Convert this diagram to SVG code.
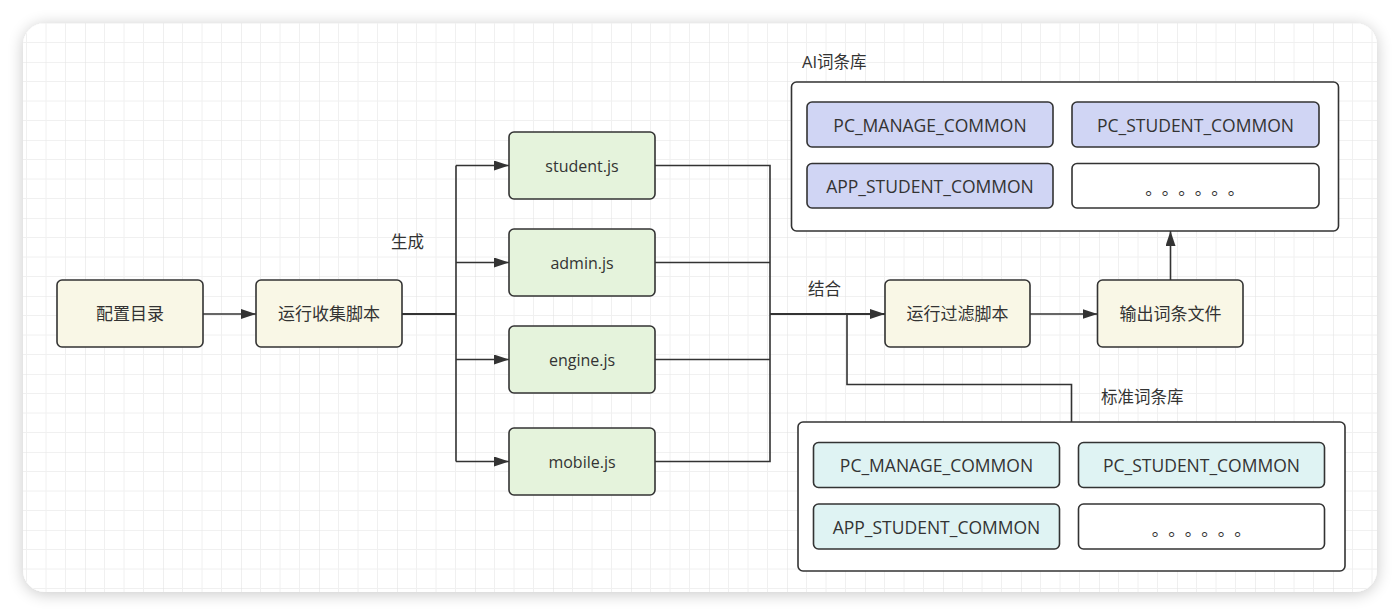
<svg xmlns="http://www.w3.org/2000/svg" width="1400" height="616" viewBox="0 0 1400 616">
  <defs>
    <filter id="shadow" x="-5%" y="-10%" width="110%" height="120%">
      <feGaussianBlur in="SourceAlpha" stdDeviation="8"/>
      <feOffset dx="0" dy="2" result="b"/>
      <feComponentTransfer><feFuncA type="linear" slope="0.22"/></feComponentTransfer>
      <feMerge><feMergeNode/><feMergeNode in="SourceGraphic"/></feMerge>
    </filter>
    <pattern id="grid" patternUnits="userSpaceOnUse" x="7" y="-16" width="78" height="78">
      <path d="M19.5 0V78M39 0V78M58.5 0V78M0 19.5H78M0 39H78M0 58.5H78" stroke="#f0f0f0" stroke-width="1" fill="none"/>
      <path d="M0 0V78M0 0H78" stroke="#e4e4e4" stroke-width="1.2" fill="none"/>
    </pattern>
    <clipPath id="cardclip"><rect x="23" y="23" width="1354" height="569" rx="22"/></clipPath>
    <marker id="arrow" viewBox="0 0 15 10" refX="15" refY="5" markerWidth="15" markerHeight="10" markerUnits="userSpaceOnUse" orient="auto">
      <path d="M0 0L15 5L0 10Z" fill="#333333"/>
    </marker>
    <style>
      .node { stroke: #333333; stroke-width: 1.6; }
      .cream { fill: #f9f7e6; }
      .green { fill: #e5f3dc; }
      .purple { fill: #d0d5f4; }
      .cyan { fill: #dff3f3; }
      .white { fill: #ffffff; }
      .txt { font-family: "Open Sans", "Noto Sans CJK SC", sans-serif; font-size: 16px; fill: #333333; text-anchor: middle; dominant-baseline: central; }
      .zh { font-size: 17px; }
      .big { font-size: 17.5px; }
      .lbl { font-family: "Open Sans", "Noto Sans CJK SC", sans-serif; font-size: 16.5px; fill: #333333; dominant-baseline: central; }
      .dots { font-family: "Noto Sans CJK SC", sans-serif; font-size: 17px; letter-spacing: 8px; fill: #333333; text-anchor: middle; }
      .edge { fill: none; stroke: #333333; stroke-width: 1.6; }
      .thick { stroke-width: 2; }
    </style>
  </defs>

  <rect x="0" y="0" width="1400" height="616" fill="#ffffff"/>
  <rect x="23" y="23" width="1354" height="569" rx="22" fill="#ffffff" filter="url(#shadow)"/>
  <rect x="23" y="23" width="1354" height="569" fill="url(#grid)" clip-path="url(#cardclip)"/>

  <g id="connectors">
    <line class="edge" x1="203" y1="314" x2="256" y2="314" marker-end="url(#arrow)"/>
    <line class="edge thick" x1="402" y1="314" x2="456" y2="314"/>
    <line class="edge" x1="456" y1="165.5" x2="456" y2="461.5"/>
    <line class="edge" x1="456" y1="165.5" x2="509" y2="165.5" marker-end="url(#arrow)"/>
    <line class="edge" x1="456" y1="262.5" x2="509" y2="262.5" marker-end="url(#arrow)"/>
    <line class="edge" x1="456" y1="359.5" x2="509" y2="359.5" marker-end="url(#arrow)"/>
    <line class="edge" x1="456" y1="461.5" x2="509" y2="461.5" marker-end="url(#arrow)"/>
    <polyline class="edge" points="655,165.5 770,165.5 770,461.5 655,461.5"/>
    <line class="edge" x1="655" y1="262.5" x2="770" y2="262.5"/>
    <line class="edge" x1="655" y1="359.5" x2="770" y2="359.5"/>
    <line class="edge thick" x1="770" y1="314" x2="885" y2="314" marker-end="url(#arrow)"/>
    <polyline class="edge" points="847,314 847,384.5 1071.5,384.5 1071.5,422"/>
    <line class="edge" x1="1030" y1="314" x2="1097.5" y2="314" marker-end="url(#arrow)"/>
    <line class="edge" x1="1170.5" y1="280" x2="1170.5" y2="231" marker-end="url(#arrow)"/>
  </g>

  <g id="label-shengcheng"><text class="lbl" x="391" y="241">生成</text></g>
  <g id="label-jiehe"><text class="lbl" x="808" y="288">结合</text></g>
  <g id="label-ai"><text class="lbl" x="802" y="61">AI词条库</text></g>
  <g id="label-std"><text class="lbl" x="1101" y="396">标准词条库</text></g>

  <g id="node-config">
    <rect class="node cream" x="57" y="280" width="146" height="67" rx="5"/>
    <text class="txt zh" x="130" y="313.5">配置目录</text>
  </g>
  <g id="node-collect">
    <rect class="node cream" x="256" y="280" width="146" height="67" rx="5"/>
    <text class="txt zh" x="329" y="313.5">运行收集脚本</text>
  </g>
  <g id="node-student">
    <rect class="node green" x="509" y="132" width="146" height="67" rx="5"/>
    <text class="txt" x="582" y="165.5">student.js</text>
  </g>
  <g id="node-admin">
    <rect class="node green" x="509" y="229" width="146" height="67" rx="5"/>
    <text class="txt" x="582" y="262.5">admin.js</text>
  </g>
  <g id="node-engine">
    <rect class="node green" x="509" y="326" width="146" height="67" rx="5"/>
    <text class="txt" x="582" y="359.5">engine.js</text>
  </g>
  <g id="node-mobile">
    <rect class="node green" x="509" y="428" width="146" height="67" rx="5"/>
    <text class="txt" x="582" y="461.5">mobile.js</text>
  </g>
  <g id="node-filter">
    <rect class="node cream" x="885" y="280" width="145" height="67" rx="5"/>
    <text class="txt zh" x="957.5" y="313.5">运行过滤脚本</text>
  </g>
  <g id="node-output">
    <rect class="node cream" x="1097.5" y="280" width="145.5" height="67" rx="5"/>
    <text class="txt zh" x="1170.5" y="313.5">输出词条文件</text>
  </g>

  <g id="node-ai-lib">
    <rect class="node white" x="791.5" y="82" width="547" height="149" rx="5"/>
    <g id="ai-pc-manage">
      <rect class="node purple" x="807" y="102" width="246" height="45" rx="5"/>
      <text class="txt big" x="930" y="124.5">PC_MANAGE_COMMON</text>
    </g>
    <g id="ai-pc-student">
      <rect class="node purple" x="1072" y="102" width="247" height="45" rx="5"/>
      <text class="txt big" x="1195.5" y="124.5">PC_STUDENT_COMMON</text>
    </g>
    <g id="ai-app-student">
      <rect class="node purple" x="807" y="163.5" width="246" height="44.5" rx="5"/>
      <text class="txt big" x="930" y="185.5">APP_STUDENT_COMMON</text>
    </g>
    <g id="ai-more">
      <rect class="node white" x="1072" y="163.5" width="247" height="44.5" rx="5"/>
      <text class="dots" x="1199" y="195">。。。。。。</text>
    </g>
  </g>

  <g id="node-std-lib">
    <rect class="node white" x="798" y="422" width="547" height="149" rx="5"/>
    <g id="std-pc-manage">
      <rect class="node cyan" x="813.5" y="442.5" width="246" height="45" rx="5"/>
      <text class="txt big" x="936.5" y="465">PC_MANAGE_COMMON</text>
    </g>
    <g id="std-pc-student">
      <rect class="node cyan" x="1078.5" y="442.5" width="246" height="45" rx="5"/>
      <text class="txt big" x="1201.5" y="465">PC_STUDENT_COMMON</text>
    </g>
    <g id="std-app-student">
      <rect class="node cyan" x="813.5" y="504" width="246" height="45" rx="5"/>
      <text class="txt big" x="936.5" y="526.5">APP_STUDENT_COMMON</text>
    </g>
    <g id="std-more">
      <rect class="node white" x="1078.5" y="504" width="246" height="45" rx="5"/>
      <text class="dots" x="1205.5" y="536">。。。。。。</text>
    </g>
  </g>
</svg>
